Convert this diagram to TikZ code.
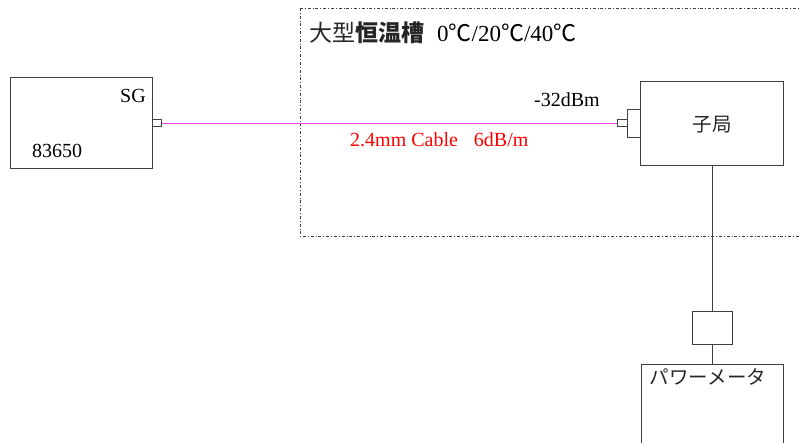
\documentclass[tikz,border=0pt]{standalone}
\usepackage{fontspec}
\setmainfont{Liberation Serif}
\newfontfamily\jp{Noto Sans CJK JP}
\begin{document}
\begin{tikzpicture}[x=1pt,y=-1pt,
  box/.style={draw=black!75, line width=0.9pt, inner sep=0pt, anchor=north west},
  port/.style={draw=black!75, line width=0.8pt, inner sep=0pt, anchor=north west},
  wire/.style={draw=black!75, line width=0.9pt},
  cablewire/.style={draw={rgb,255:red,240;green,70;blue,240}, line width=1.5pt},
  lbl/.style={inner sep=0pt, font=\fontsize{20}{20}\selectfont},
  jplbl/.style={inner sep=0pt, text=black!85, font=\jp\fontsize{19.5}{19.5}\selectfont}
]
\useasboundingbox (0,0) rectangle (800,443);
% chamber
\draw[black!75, line width=0.7pt, dash dot] (300,8) -- (810,8) (300,8) -- (300,236) -- (810,236);
\node[lbl, anchor=base west, font=\fontsize{23}{23}\selectfont] (title) at (309,42)
  {{\color{black!85}\jp 大型\textbf{恒温槽}}\hspace{13pt}0{\jp ℃}/20{\jp ℃}/40{\jp ℃}};
% SG
\node[box, minimum width=142pt, minimum height=91pt] (sg) at (10,77) {};
\node[port, minimum width=9pt, minimum height=7pt] (sgp) at (152,119.5) {};
\node[lbl, anchor=base east] (sgt) at (146,103) {SG};
\node[lbl, anchor=base west] (sgn) at (32,158) {83650};
% slave
\node[box, minimum width=143pt, minimum height=84pt] (ko) at (640,81) {};
\node[port, minimum width=13pt, minimum height=28pt] (ad) at (627,109) {};
\node[port, minimum width=10pt, minimum height=7pt] (kop) at (617,119.5) {};
\node[jplbl, anchor=center] (kot) at (712,125) {子局};
\node[lbl, anchor=base west] (dbm) at (534,107) {-32dBm};
% cable
\path[cablewire] (sgp.east) -- (kop.west);
\node[lbl, anchor=base west, text=red] (cab) at (350,147) {2.4mm Cable\hspace{16pt}6dB/m};
% power meter
\node[box, minimum width=40pt, minimum height=33pt] (att) at (692,311) {};
\node[box, minimum width=142pt, minimum height=90pt] (pm) at (641,364) {};
\node[jplbl, anchor=center] (pmt) at (708,377) {パワーメータ};
\draw[wire] (ko.south -| att.north) -- (att.north);
\draw[wire] (att.south) -- (att.south |- pm.north);
\end{tikzpicture}
\end{document}
